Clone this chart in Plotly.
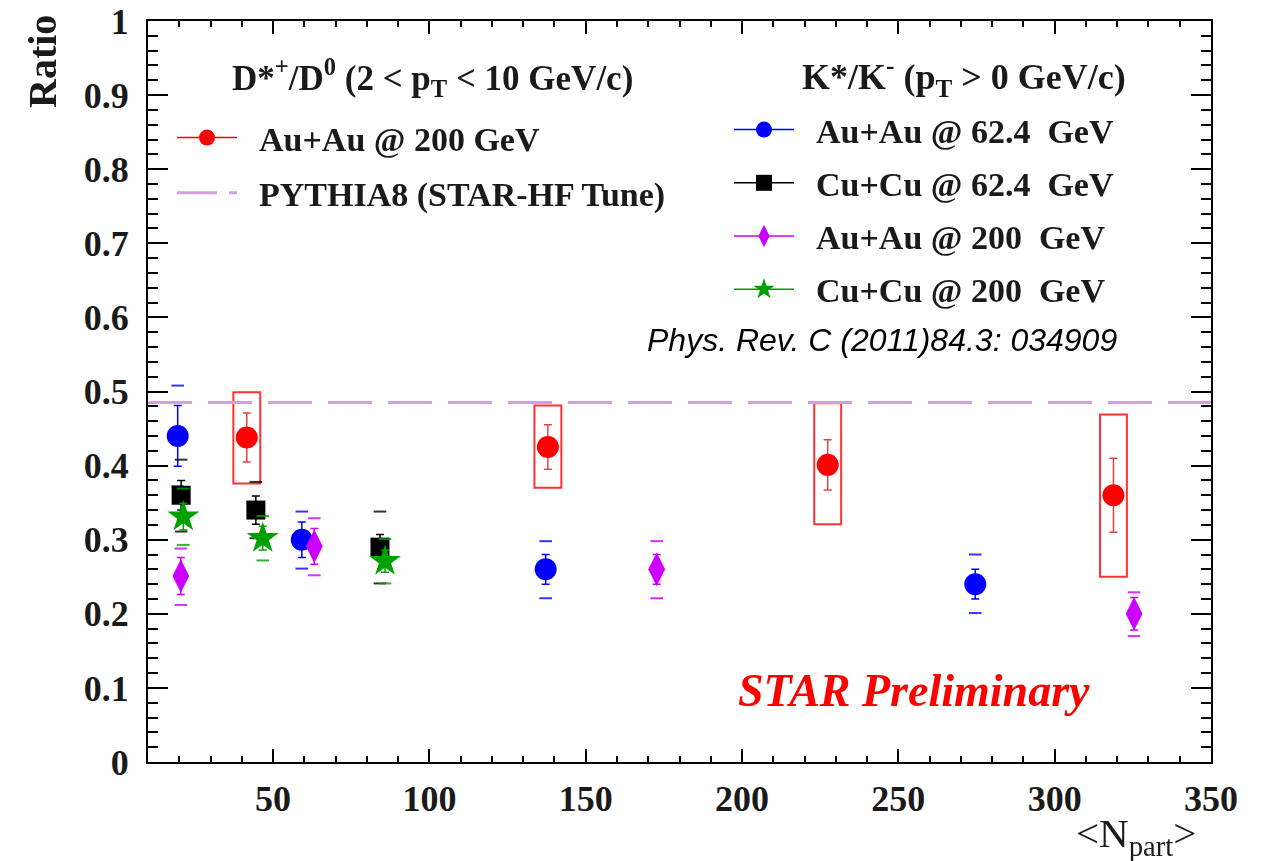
import plotly.graph_objects as go

# ---------------- data ----------------
# D*+/D0, Au+Au 200 GeV (2 < pT < 10 GeV/c)
dstar_npart = [41.6, 137.9, 227.4, 318.8]
dstar_ratio = [0.438, 0.425, 0.401, 0.360]
dstar_stat = [0.033, 0.030, 0.034, 0.050]
dstar_sys_lo = [0.376, 0.370, 0.321, 0.250]
dstar_sys_hi = [0.499, 0.481, 0.484, 0.469]

# PYTHIA8 (STAR-HF Tune)
pythia_ratio = 0.485

# K*/K-  (pT > 0 GeV/c)
auau62_npart = [19.5, 59.2, 137.2, 274.6]
auau62_ratio = [0.440, 0.300, 0.260, 0.240]
auau62_stat = [0.041, 0.024, 0.020, 0.020]
auau62_sys_lo = [0.372, 0.261, 0.221, 0.201]
auau62_sys_hi = [0.508, 0.338, 0.298, 0.280]

cucu62_npart = [20.6, 44.5, 84.2]
cucu62_ratio = [0.360, 0.340, 0.290]
cucu62_stat = [0.020, 0.019, 0.017]
cucu62_sys_lo = [0.311, 0.302, 0.241]
cucu62_sys_hi = [0.408, 0.378, 0.338]

auau200_npart = [20.5, 63.2, 172.7, 325.4]
auau200_ratio = [0.251, 0.291, 0.260, 0.200]
auau200_stat = [0.025, 0.024, 0.020, 0.022]
auau200_sys_lo = [0.212, 0.252, 0.221, 0.170]
auau200_sys_hi = [0.288, 0.329, 0.298, 0.229]

cucu200_npart = [21.3, 46.7, 85.8]
cucu200_ratio = [0.331, 0.302, 0.271]
cucu200_stat = [0.018, 0.016, 0.015]
cucu200_sys_lo = [0.293, 0.272, 0.241]
cucu200_sys_hi = [0.369, 0.332, 0.301]

x_range = [10, 350]
y_range = [0, 1]
x_ticks = [50, 100, 150, 200, 250, 300, 350]
y_ticks = [0, 0.1, 0.2, 0.3, 0.4, 0.5, 0.6, 0.7, 0.8, 0.9, 1]
y_ticktext = ["0", "0.1", "0.2", "0.3", "0.4", "0.5", "0.6", "0.7", "0.8", "0.9", "1"]

# ---------------- figure ----------------
SERIF = "Liberation Serif, Times New Roman, serif"
TXT = "#1a1a1a"
fig = go.Figure()

# plot-area edges in screen pixels
PL, PR, PT, PB = 148, 1211, 21, 762
W, H = 1269, 861


def px(x):
    return (x - PL) / (PR - PL)


def py(y):
    return (PB - y) / (PB - PT)


# PYTHIA dashed line
fig.add_trace(go.Scatter(
    x=x_range, y=[pythia_ratio, pythia_ratio], mode="lines",
    line=dict(color="#d2a0e0", width=3, dash="44px,16px"),
    showlegend=False, hoverinfo="skip"))

# D* systematic boxes
BOX_HALF = 4.3
for xv, lo, hi in zip(dstar_npart, dstar_sys_lo, dstar_sys_hi):
    fig.add_shape(type="rect", xref="x", yref="y",
                  x0=xv - BOX_HALF, x1=xv + BOX_HALF, y0=lo, y1=hi,
                  line=dict(color="#ff3333", width=2), fillcolor="rgba(0,0,0,0)",
                  layer="below")

kstar_series = [
    ("Au+Au @ 62.4  GeV", auau62_npart, auau62_ratio, auau62_stat, auau62_sys_lo, auau62_sys_hi,
     "#0000ff", "circle", 22),
    ("Cu+Cu @ 62.4  GeV", cucu62_npart, cucu62_ratio, cucu62_stat, cucu62_sys_lo, cucu62_sys_hi,
     "#000000", "square", 19),
    ("Au+Au @ 200  GeV", auau200_npart, auau200_ratio, auau200_stat, auau200_sys_lo, auau200_sys_hi,
     "#cc00ff", "diamond-tall", 24),
    ("Cu+Cu @ 200  GeV", cucu200_npart, cucu200_ratio, cucu200_stat, cucu200_sys_lo, cucu200_sys_hi,
     "#00a000", "star", 24),
]

for name, xs, ys, st, lo, hi, col, sym, sz in kstar_series:
    # systematic brackets
    fig.add_trace(go.Scatter(
        x=xs + xs, y=hi + lo, mode="markers",
        marker=dict(symbol="line-ew", size=9, line=dict(color=col, width=2)),
        opacity=0.8, showlegend=False, hoverinfo="skip"))
    # points with stat errors
    fig.add_trace(go.Scatter(
        x=xs, y=ys, mode="markers",
        marker=dict(symbol=sym, size=sz, color=col, line=dict(width=0)),
        error_y=dict(type="data", array=st, color=col, thickness=1.5, width=4),
        showlegend=False))

# D* points
fig.add_trace(go.Scatter(
    x=dstar_npart, y=dstar_ratio, mode="markers",
    marker=dict(symbol="circle", size=22, color="#ff0000"),
    error_y=dict(type="data", array=dstar_stat, color="rgba(205,40,40,0.85)", thickness=1.5, width=4),
    showlegend=False))

# ---------------- legends (entries) ----------------
NB = "&nbsp;&nbsp;"
fig.add_trace(go.Scatter(x=[None], y=[None], mode="lines+markers", name=NB + "<b>Au+Au @ 200 GeV</b>",
                         marker=dict(symbol="circle", size=22, color="#ff0000"),
                         line=dict(color="#ff0000", width=1.5),
                         legend="legend", legendgroup="a"))
fig.add_trace(go.Scatter(x=[None], y=[None], mode="lines", name=NB + "<b>PYTHIA8 (STAR-HF Tune)</b>",
                         line=dict(color="#d2a0e0", width=3, dash="40px,12px"),
                         legend="legend", legendgroup="b"))
for i, (name, xs, ys, st, lo, hi, col, sym, sz) in enumerate(kstar_series):
    fig.add_trace(go.Scatter(x=[None], y=[None], mode="lines+markers", name=NB + "<b>" + name + "</b>",
                             marker=dict(symbol=sym, size=sz, color=col),
                             line=dict(color=col, width=1.5),
                             legend="legend2", legendgroup="k%d" % i))

legend_font = dict(family=SERIF, size=34, color=TXT)
fig.update_layout(
    legend=dict(x=px(172), y=py(109), xanchor="left", yanchor="top",
                font=legend_font, bgcolor="rgba(0,0,0,0)", itemwidth=60, itemsizing="trace",
                tracegroupgap=8, itemclick=False),
    legend2=dict(x=px(729), y=py(101), xanchor="left", yanchor="top",
                 font=legend_font, bgcolor="rgba(0,0,0,0)", itemwidth=60, itemsizing="trace",
                 tracegroupgap=6, itemclick=False),
)

# ---------------- annotations ----------------
ann = [
    dict(text="<b>D*<sup>+</sup>/D<sup>0</sup> (2 &lt; p<sub>T</sub> &lt; 10 GeV/c)</b>",
         x=px(432), y=py(77), font=dict(family=SERIF, size=35, color=TXT)),
    dict(text="<b>K*/K<sup>-</sup> (p<sub>T</sub> &gt; 0 GeV/c)</b>",
         x=px(964), y=py(77), font=dict(family=SERIF, size=36, color=TXT)),
    dict(text="<i>Phys. Rev. C (2011)84.3: 034909</i>",
         x=px(882), y=py(340), font=dict(family="Liberation Sans, Arial, sans-serif", size=32, color="#000000")),
    dict(text="<b><i>STAR Preliminary</i></b>",
         x=px(914), y=py(690), font=dict(family=SERIF, size=46, color="#ff0000")),
    dict(text="<b>Ratio</b>", textangle=-90,
         x=px(43), y=py(62), font=dict(family=SERIF, size=40, color=TXT)),
    dict(text="&lt;N<sub>part</sub>&gt;",
         x=px(1136), y=py(836), font=dict(family=SERIF, size=41, color=TXT)),
]
for a in ann:
    fig.add_annotation(xref="paper", yref="paper", showarrow=False,
                       xanchor="center", yanchor="middle", **a)

axis_common = dict(showgrid=False, zeroline=False, showline=True, linecolor="black",
                   linewidth=2, mirror="allticks", ticks="inside", tickcolor="black",
                   automargin=False, ticklabeloverflow="allow",
                   tickfont=dict(family=SERIF, size=36, color=TXT))

fig.update_xaxes(range=x_range, tickmode="array", tickvals=x_ticks,
                 ticktext=["<b>%d</b>" % v for v in x_ticks],
                 ticklen=13, tickwidth=2, ticklabelstandoff=4,
                 minor=dict(dtick=10, tick0=0, ticks="inside", ticklen=6, tickwidth=2, tickcolor="black"),
                 **axis_common)
fig.update_yaxes(range=y_range, tickmode="array", tickvals=y_ticks,
                 ticktext=["<b>%s</b>" % t for t in y_ticktext],
                 ticklen=20, tickwidth=2, ticklabelstandoff=10,
                 minor=dict(dtick=0.02, tick0=0, ticks="inside", ticklen=10, tickwidth=2, tickcolor="black"),
                 **axis_common)

fig.update_layout(
    width=W, height=H,
    margin=dict(l=PL, r=W - PR, t=PT, b=H - PB, pad=0),
    plot_bgcolor="white", paper_bgcolor="white",
    font=dict(family=SERIF, color=TXT),
)

# remove the default page margin so the figure sits at the window origin
fig.write_html("out.html",
               config={"displayModeBar": False},
               post_script="document.body.style.margin='0';document.body.style.overflow='hidden';")
